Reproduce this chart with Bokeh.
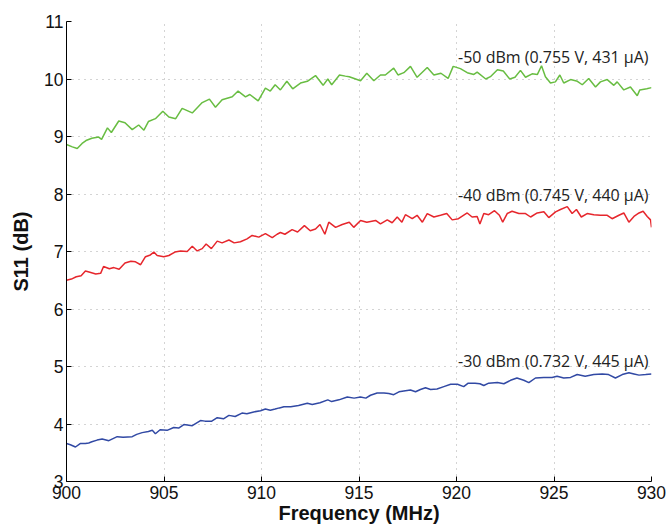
from bokeh.plotting import figure
from bokeh.models import Range1d, FixedTicker, Label
from bokeh.embed import file_html
from bokeh.resources import INLINE

# ---- data ----
freq_m50 = [900.0, 900.3, 900.55, 900.8, 901.0, 901.3, 901.65, 901.8, 902.1, 902.3, 902.68, 903.0, 903.37, 903.7,
            903.97, 904.2, 904.56, 904.94, 905.25, 905.6, 905.93, 906.45, 906.96, 907.33, 907.64, 907.98, 908.5,
            908.8, 909.18, 909.4, 909.83, 910.2, 910.45, 910.7, 910.97, 911.3, 911.6, 912.0, 912.35, 912.77, 913.16,
            913.4, 913.6, 914.0, 914.3, 914.5, 915.08, 915.4, 915.76, 916.1, 916.35, 916.78, 917.0, 917.3, 917.64,
            917.98, 918.5, 918.84, 919.2, 919.57, 919.83, 920.2, 920.55, 920.89, 921.06, 921.5, 921.74, 922.1,
            922.4, 922.73, 923.0, 923.28, 923.54, 923.88, 924.15, 924.36, 924.56, 924.82, 925.07, 925.3, 925.5,
            925.85, 926.2, 926.45, 926.78, 927.13, 927.38, 927.73, 928.07, 928.24, 928.58, 928.92, 929.27, 929.4,
            929.76, 930.0]
s11_m50 = [8.86, 8.82, 8.79, 8.88, 8.93, 8.97, 8.99, 8.95, 9.15, 9.07, 9.27, 9.24, 9.12, 9.2,
           9.11, 9.26, 9.31, 9.44, 9.34, 9.31, 9.49, 9.41, 9.59, 9.65, 9.51, 9.64, 9.69,
           9.79, 9.69, 9.73, 9.62, 9.84, 9.79, 9.9, 9.81, 9.96, 9.83, 9.93, 9.96, 10.06, 9.89,
           10.0, 9.9, 10.07, 10.05, 10.04, 9.97, 10.1, 9.97, 10.07, 10.07, 10.19, 10.07, 10.11, 10.22,
           10.03, 10.2, 10.07, 10.1, 10.01, 10.22, 10.18, 10.11, 10.08, 10.12, 10.0, 10.04, 10.16,
           10.14, 10.0, 10.03, 10.15, 10.03, 10.09, 10.08, 10.23, 10.04, 9.93, 9.95, 10.07, 9.93,
           9.99, 9.96, 9.9, 10.01, 9.86, 9.95, 9.99, 9.89, 9.95, 9.81, 9.86, 9.71, 9.81,
           9.83, 9.85]

freq_m40 = [900.0, 900.25, 900.5, 900.75, 900.97, 901.2, 901.5, 901.75, 901.9, 902.2, 902.43, 902.7, 903.0, 903.3,
            903.54, 903.8, 904.05, 904.3, 904.48, 904.65, 904.99, 905.25, 905.56, 905.85, 906.19, 906.45, 906.7,
            906.96, 907.16, 907.43, 907.73, 907.98, 908.33, 908.6, 908.92, 909.26, 909.52, 909.86, 910.2, 910.55,
            910.8, 910.97, 911.2, 911.57, 911.85, 912.2, 912.5, 912.77, 913.0, 913.25, 913.45, 913.8, 914.14, 914.5,
            914.73, 915.08, 915.4, 915.85, 916.1, 916.45, 916.7, 916.96, 917.2, 917.38, 917.73, 917.98, 918.25,
            918.5, 918.84, 919.18, 919.5, 919.78, 920.1, 920.55, 920.8, 921.06, 921.2, 921.4, 921.65, 921.95,
            922.2, 922.37, 922.6, 922.85, 923.2, 923.54, 923.8, 924.14, 924.48, 924.73, 925.08, 925.33, 925.68,
            925.93, 926.15, 926.4, 926.7, 927.04, 927.38, 927.73, 927.98, 928.33, 928.58, 928.84, 929.1, 929.36,
            929.57, 929.78, 929.95, 930.0]
s11_m40 = [6.5, 6.52, 6.56, 6.58, 6.66, 6.64, 6.61, 6.62, 6.74, 6.7, 6.72, 6.69, 6.8, 6.83,
           6.82, 6.77, 6.91, 6.94, 6.99, 6.93, 6.91, 6.93, 6.99, 7.01, 7.0, 7.09, 7.01,
           7.05, 7.13, 7.05, 7.18, 7.15, 7.2, 7.15, 7.17, 7.22, 7.28, 7.25, 7.31, 7.24,
           7.3, 7.33, 7.3, 7.38, 7.34, 7.45, 7.36, 7.39, 7.47, 7.3, 7.51, 7.42, 7.47, 7.51,
           7.42, 7.54, 7.51, 7.54, 7.48, 7.55, 7.5, 7.6, 7.51, 7.64, 7.57, 7.63, 7.51,
           7.66, 7.6, 7.63, 7.66, 7.55, 7.57, 7.67, 7.6, 7.61, 7.48, 7.66, 7.64, 7.71,
           7.63, 7.51, 7.66, 7.7, 7.66, 7.66, 7.6, 7.67, 7.69, 7.59, 7.69, 7.73, 7.78,
           7.66, 7.73, 7.6, 7.66, 7.64, 7.63, 7.63, 7.57, 7.63, 7.67, 7.51, 7.61, 7.67,
           7.7, 7.61, 7.55, 7.42]

freq_m30 = [900.0, 900.2, 900.46, 900.7, 900.97, 901.14, 901.3, 901.57, 901.83, 902.17, 902.6, 902.9, 903.37, 903.6,
            903.88, 904.2, 904.4, 904.56, 904.8, 905.16, 905.5, 905.75, 906.02, 906.45, 906.87, 907.1, 907.45,
            907.73, 908.05, 908.33, 908.65, 909.0, 909.25, 909.6, 909.95, 910.2, 910.45, 910.7, 910.92, 911.15,
            911.5, 911.9, 912.35, 912.6, 913.0, 913.4, 913.6, 913.97, 914.4, 914.75, 915.08, 915.35, 915.59,
            915.93, 916.28, 916.53, 916.78, 917.05, 917.38, 917.64, 917.9, 918.15, 918.41, 918.67, 919.0, 919.35,
            919.7, 920.05, 920.37, 920.6, 920.95, 921.2, 921.4, 921.65, 922.1, 922.43, 922.77, 923.1, 923.45,
            923.71, 924.05, 924.48, 924.9, 925.16, 925.5, 925.85, 926.19, 926.6, 927.04, 927.47, 927.8, 928.15,
            928.5, 928.84, 929.1, 929.36, 929.7, 930.0]
s11_m30 = [3.66, 3.64, 3.6, 3.66, 3.66, 3.67, 3.69, 3.72, 3.74, 3.71, 3.78, 3.77, 3.78, 3.82,
           3.85, 3.87, 3.89, 3.83, 3.9, 3.89, 3.94, 3.93, 3.99, 3.97, 4.06, 4.05, 4.05,
           4.11, 4.09, 4.15, 4.13, 4.19, 4.18, 4.21, 4.23, 4.26, 4.24, 4.26, 4.28, 4.3,
           4.3, 4.32, 4.36, 4.34, 4.37, 4.42, 4.39, 4.42, 4.47, 4.45, 4.47, 4.45, 4.5,
           4.54, 4.54, 4.53, 4.51, 4.56, 4.58, 4.59, 4.56, 4.6, 4.63, 4.6, 4.61, 4.65,
           4.69, 4.69, 4.65, 4.71, 4.71, 4.7, 4.67, 4.71, 4.72, 4.7, 4.76, 4.8, 4.76,
           4.72, 4.8, 4.81, 4.81, 4.83, 4.8, 4.81, 4.86, 4.83, 4.86, 4.87, 4.86, 4.8,
           4.86, 4.89, 4.87, 4.85, 4.86, 4.87]

labels = ["-50 dBm (0.755 V, 431 \u00b5A)", "-40 dBm (0.745 V, 440 \u00b5A)", "-30 dBm (0.732 V, 445 \u00b5A)"]
label_x = [929.85, 929.85, 929.85]
label_y = [10.38, 7.99, 5.1]

x_ticks = [900, 905, 910, 915, 920, 925, 930]
y_ticks = [3, 4, 5, 6, 7, 8, 9, 10, 11]

colors = ["#68bd42", "#e6262c", "#3149a4"]

# ---- figure ----
p = figure(width=668, height=529, output_backend="svg", toolbar_location=None,
           x_range=Range1d(900, 930), y_range=Range1d(3, 11))
p.min_border_left = 66
p.min_border_right = 17
p.min_border_top = 21
p.min_border_bottom = 48
p.outline_line_color = None
p.background_fill_color = "white"
p.border_fill_color = "white"

for ax in (p.xaxis[0], p.yaxis[0]):
    ax.major_tick_in = 5
    ax.major_tick_out = 0
    ax.minor_tick_line_color = None
    ax.axis_line_color = "black"
    ax.major_tick_line_color = "black"
    ax.major_label_text_font = "Liberation Sans"
    ax.major_label_text_font_size = "17.5px"
    ax.major_label_text_color = "#111111"
    ax.axis_label_text_font = "Liberation Sans"
    ax.axis_label_text_font_size = "20px"
    ax.axis_label_text_font_style = "bold"
    ax.axis_label_text_color = "#111111"

p.xaxis[0].ticker = FixedTicker(ticks=x_ticks)
p.yaxis[0].ticker = FixedTicker(ticks=y_ticks)
p.xaxis[0].axis_label = "Frequency (MHz)"
p.yaxis[0].axis_label = "S11 (dB)"
p.xaxis[0].major_label_standoff = 4
p.xaxis[0].axis_label_standoff = 0
p.yaxis[0].major_label_standoff = 3
p.yaxis[0].axis_label_standoff = 9

for g in (p.xgrid[0], p.ygrid[0]):
    g.grid_line_color = "#a8a8a8"
    g.grid_line_dash = "1 5"
    g.grid_line_width = 1

for fx, fy, c in ((freq_m50, s11_m50, colors[0]), (freq_m40, s11_m40, colors[1]), (freq_m30, s11_m30, colors[2])):
    p.line(fx, fy, line_color=c, line_width=1.5)

for t, lx, ly in zip(labels, label_x, label_y):
    p.add_layout(Label(x=lx, y=ly, text=t, text_align="right", text_baseline="alphabetic",
                       text_font="Open Sans", text_font_size="16px", text_color="#222222"))

open("out.html", "w").write(file_html(p, INLINE))
